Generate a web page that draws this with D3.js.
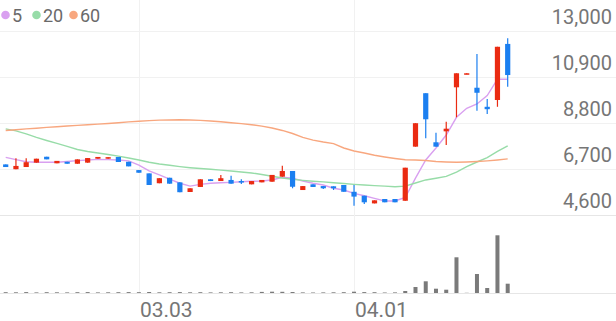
<!DOCTYPE html>
<html>
<head>
<meta charset="utf-8">
<script src="https://cdn.jsdelivr.net/npm/d3@7"></script>
<style>
  html, body { margin: 0; padding: 0; background: #fff; }
  #container { width: 616px; height: 321px; }
  svg { display: block; font-family: Roboto, "Noto Sans", sans-serif; }
</style>
</head>
<body>
<div id="container"></div>
<script>
// daily candles, one per trading day
const opens  = [6910, 6690, 6790, 6990, 7260, 6960, 7030, 6940, 6990, 7170,
                7170, 7250, 7030, 6650, 6500, 6050, 6300, 6090, 5650, 5880,
                6230, 6150, 6200, 6150, 6000, 6090, 6120, 6350, 6610, 5740,
                6000, 5920, 5910, 5970, 5660, 5480, 5130, 5330, 5330, 5250,
                7720, 10160, 7920, 8420, 10430, 11030, 10410, 9540, 9850, 12410];
const closes = [6790, 6840, 7010, 7170, 7140, 7070, 6940, 7140, 7200, 7250,
                7240, 7020, 6820, 6530, 5970, 6280, 6030, 5640, 5820, 6230,
                6150, 6280, 6030, 6090, 6150, 6200, 6430, 6610, 5890, 5920,
                5880, 5820, 5820, 5660, 5440, 5180, 5270, 5180, 5180, 6760,
                8790, 8970, 7720, 8540, 11070, 11070, 10180, 9430, 12280, 10990];
const highs  = [6910, 7190, 7190, 7170, 7260, 7070, 7030, 7140, 7200, 7250,
                7240, 7250, 7030, 6650, 6500, 6280, 6300, 6090, 5820, 6230,
                6230, 6430, 6390, 6230, 6150, 6200, 6430, 6850, 6610, 5920,
                6000, 5920, 5910, 5970, 5970, 5480, 5270, 5330, 5330, 6760,
                8790, 10160, 8360, 8860, 11070, 11070, 11950, 9900, 12280, 12670];
const lows   = [6790, 6690, 6790, 6990, 7140, 6960, 6940, 6940, 6990, 7170,
                7170, 7020, 6820, 6530, 5970, 6050, 6030, 5640, 5650, 5880,
                6150, 6150, 6030, 6020, 6000, 6090, 6120, 6350, 5820, 5740,
                5880, 5790, 5740, 5660, 5020, 5100, 5130, 5180, 5180, 5250,
                7720, 8100, 7720, 7800, 9060, 11030, 9360, 9210, 9540, 10460];
const volumes = [80000, 70000, 90000, 60000, 80000, 70000, 60000, 80000, 90000, 60000,
                 70000, 80000, 90000, 80000, 100000, 70000, 80000, 90000, 70000, 80000,
                 60000, 70000, 80000, 60000, 70000, 110000, 130000, 120000, 100000, 60000,
                 50000, 60000, 70000, 80000, 130000, 90000, 80000, 50000, 60000, 200000,
                 600000, 1170000, 430000, 330000, 3570000, 20000, 1900000, 500000, 5770000, 930000];

// moving averages as drawn
const ma5  = [7230, 7130, 7030, 7010, 7010, 7010, 7040, 7080, 7110, 7140,
              7130, 7110, 7070, 6880, 6610, 6430, 6240, 6050, 5920, 6000,
              6050, 6070, 6090, 6120, 6140, 6150, 6200, 6320, 6280, 6150,
              6050, 5970, 5820, 5740, 5590, 5480, 5360, 5240, 5240, 5400,
              6280, 7110, 7660, 8250, 9060, 9470, 9670, 10050, 10800, 10800];
const ma20 = [8530, 8440, 8300, 8140, 8000, 7870, 7730, 7590, 7500, 7430,
              7360, 7290, 7200, 7110, 7010, 6930, 6870, 6810, 6760, 6720,
              6690, 6650, 6610, 6560, 6520, 6450, 6370, 6290, 6230, 6180,
              6140, 6110, 6070, 6040, 6000, 5970, 5940, 5920, 5890, 5920,
              6060, 6200, 6280, 6360, 6560, 6810, 7020, 7220, 7500, 7760];
const ma60 = [8460, 8490, 8530, 8560, 8600, 8630, 8660, 8690, 8720, 8750,
              8780, 8810, 8850, 8880, 8910, 8930, 8940, 8950, 8940, 8920,
              8890, 8860, 8810, 8770, 8720, 8660, 8570, 8460, 8320, 8140,
              8020, 7930, 7860, 7660, 7520, 7430, 7330, 7250, 7180, 7120,
              7110, 7090, 7040, 7020, 7010, 7020, 7040, 7070, 7110, 7160];

const priceTicks = [4600, 6700, 8800, 10900, 13000];
const dateTickIdx = [13, 34];
const dateTickLabels = ["03.03", "04.01"];
const legendNames = ["5", "20", "60"];

function draw() {
    const width = 616;
    const height = 321;

    const upColor = "#ea2b12";
    const downColor = "#1b7ff0";
    const maColors = ["#d9a0f0", "#97dca8", "#f8a77f"];

    const svg = d3.select('#container')
        .append('svg')
        .attr('width', width)
        .attr('height', height)
        .attr('viewBox', `0 0 ${width} ${height}`);

    const idx = d3.range(closes.length);

    const x = d3.scaleLinear()
        .domain([0, closes.length - 1])
        .range([5.7, 507.7]);

    const y = d3.scaleLinear()
        .domain([4600, 13000])
        .range([215, 31]);

    const yVol = d3.scaleLinear()
        .domain([0, 7800000])
        .range([293, 215]);

    // grid
    const grid = svg.append("g");
    grid.selectAll(".hgrid")
        .data(priceTicks)
        .join("line")
        .attr("x1", 0)
        .attr("x2", width)
        .attr("y1", d => Math.round(y(d)) + 0.5)
        .attr("y2", d => Math.round(y(d)) + 0.5)
        .attr("stroke", d => d === 4600 ? "#e6e6e6" : "#f1f1f1")
        .attr("stroke-width", 1);

    grid.selectAll(".vgrid")
        .data(dateTickIdx)
        .join("line")
        .attr("x1", d => Math.round(x(d)) + 0.5)
        .attr("x2", d => Math.round(x(d)) + 0.5)
        .attr("y1", 0)
        .attr("y2", 293)
        .attr("stroke", "#f1f1f1")
        .attr("stroke-width", 1);

    grid.append("line")
        .attr("x1", 0)
        .attr("x2", width)
        .attr("y1", 293.5)
        .attr("y2", 293.5)
        .attr("stroke", "#e6e6e6");

    // price labels on the right
    svg.append("g")
        .selectAll("text")
        .data(priceTicks)
        .join("text")
        .attr("x", 612)
        .attr("y", d => y(d) - 7)
        .attr("text-anchor", "end")
        .style("font-size", "20px")
        .style("fill", "#767676")
        .text(d => d3.format(",")(d));

    // date labels
    svg.append("g")
        .selectAll("text")
        .data(dateTickIdx)
        .join("text")
        .attr("x", d => x(d) + 1)
        .attr("y", 316.5)
        .style("font-size", "21px")
        .style("fill", "#767676")
        .text((d, i) => dateTickLabels[i]);

    // volume bars
    svg.append("g")
        .selectAll("rect")
        .data(idx)
        .join("rect")
        .attr("x", i => x(i) - 2)
        .attr("width", 4)
        .attr("y", i => yVol(volumes[i]))
        .attr("height", i => 293 - yVol(volumes[i]))
        .attr("fill", "#7a7a7a");

    // moving average lines
    const maSeries = [ma5, ma20, ma60];
    const line = d3.line()
        .x(d => x(d.i))
        .y(d => y(d.v));
    const maG = svg.append("g");
    maSeries.forEach((s, k) => {
        maG.append("path")
            .datum(s.map((v, i) => ({ i: i, v: v })))
            .attr("d", line)
            .attr("fill", "none")
            .attr("stroke", maColors[k])
            .attr("stroke-width", 1.4);
    });

    // candles
    const candles = svg.append("g")
        .selectAll("g")
        .data(idx)
        .join("g");

    const col = i => closes[i] >= opens[i] ? upColor : downColor;

    candles.append("line")
        .attr("x1", i => x(i))
        .attr("x2", i => x(i))
        .attr("y1", i => y(highs[i]))
        .attr("y2", i => y(lows[i]))
        .attr("stroke", col)
        .attr("stroke-width", 1.2);

    candles.append("rect")
        .attr("x", i => x(i) - 2.6)
        .attr("width", 5.2)
        .attr("y", i => y(Math.max(opens[i], closes[i])))
        .attr("height", i => Math.max(1.5, Math.abs(y(opens[i]) - y(closes[i]))))
        .attr("fill", col);

    // legend
    const legendX = [5.5, 36.5, 73.5];
    const legend = svg.append("g")
        .selectAll("g")
        .data(legendNames)
        .join("g")
        .attr("transform", (d, i) => `translate(${legendX[i]}, 15)`);
    legend.append("circle")
        .attr("r", 4.3)
        .attr("fill", (d, i) => maColors[i]);
    legend.append("text")
        .attr("x", 6.5)
        .attr("y", 6.5)
        .style("font-size", "18px")
        .style("fill", "#6a6a6a")
        .text(d => d);
}

draw();
</script>
</body>
</html>
